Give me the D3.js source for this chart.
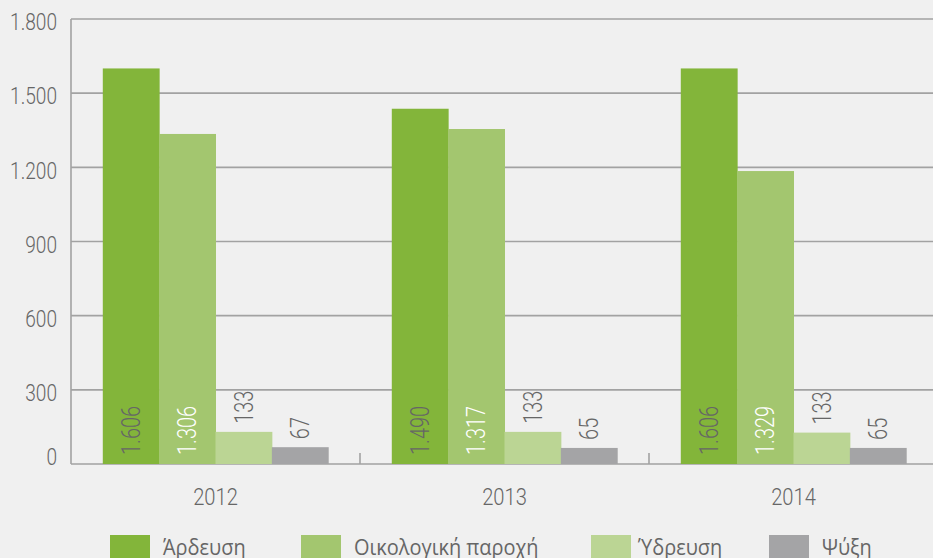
<!DOCTYPE html>
<html>
<head>
<meta charset="utf-8">
<script src="https://cdn.jsdelivr.net/npm/d3@7"></script>
<style>
  html, body { margin: 0; padding: 0; background: #f0f0f0; }
  svg { display: block; }
  .num { font-family: "Roboto", sans-serif; font-weight: 300; }
  .legend text { font-family: "Open Sans", "Noto Sans", sans-serif; }
</style>
</head>
<body>
<svg width="933" height="558"></svg>
<script>
// data
var years = ['2012', '2013', '2014'];
var seriesNames = ['Άρδευση', 'Οικολογική παροχή', 'Ύδρευση', 'Ψύξη'];
// bar heights as drawn
var irrigation = [1600, 1437, 1600];
var ecoFlow = [1335, 1355, 1185];
var waterSupply = [130, 130, 127];
var cooling = [68, 65, 65];
// printed labels
var irrigationLabels = ['1.606', '1.490', '1.606'];
var ecoFlowLabels = ['1.306', '1.317', '1.329'];
var waterSupplyLabels = ['133', '133', '133'];
var coolingLabels = ['67', '65', '65'];
var yTicks = [0, 300, 600, 900, 1200, 1500, 1800];

var colors = ['#83b53a', '#a3c66f', '#bbd594', '#a4a4a6'];
var values = [irrigation, ecoFlow, waterSupply, cooling];
var labels = [irrigationLabels, ecoFlowLabels, waterSupplyLabels, coolingLabels];

var svg = d3.select('svg');
var plotLeft = 71, plotRight = 938, plotTop = 19, plotBottom = 464;

var fmt = d3.formatLocale({ decimal: ',', thousands: '.', grouping: [3], currency: ['', '€'] }).format(',');

var x = d3.scaleBand().domain(years).range([plotLeft, plotRight]).paddingInner(0.22).paddingOuter(0.11);
var x1 = d3.scaleBand().domain(d3.range(seriesNames.length)).range([0, x.bandwidth()]);
var y = d3.scaleLinear().domain([0, 1800]).range([plotBottom, plotTop]);

// narrow the numbers, the source font is a condensed one
function condense(sel, k) {
    sel.each(function () {
        var w = this.getComputedTextLength();
        d3.select(this).attr('textLength', w * k).attr('lengthAdjust', 'spacingAndGlyphs');
    });
}

// gridlines
svg.append('g').selectAll('line')
    .data(yTicks)
    .enter()
    .append('line')
    .attr('x1', plotLeft).attr('x2', 933)
    .attr('y1', function (d) { return y(d); })
    .attr('y2', function (d) { return y(d); })
    .attr('stroke', '#a2a2a2')
    .attr('stroke-width', 1.6);

// y tick labels
svg.append('g').selectAll('text')
    .data(yTicks)
    .enter()
    .append('text')
    .attr('class', 'num')
    .attr('x', 57)
    .attr('y', function (d) { return y(d) + (d === 0 ? -7 : 3); })
    .attr('dy', '0.36em')
    .attr('text-anchor', 'end')
    .attr('font-size', 23)
    .attr('fill', '#666666')
    .text(function (d) { return fmt(d); })
    .call(condense, 0.83);

// bars
var rows = [];
years.forEach(function (yr, i) {
    seriesNames.forEach(function (s, j) {
        rows.push({ year: yr, s: j, v: values[j][i], label: labels[j][i] });
    });
});

var g = svg.append('g');
g.selectAll('rect')
    .data(rows)
    .enter()
    .append('rect')
    .attr('x', function (d) { return x(d.year) + x1(d.s); })
    .attr('width', x1.bandwidth() + 0.5)
    .attr('y', function (d) { return y(d.v); })
    .attr('height', function (d) { return y(0) - y(d.v); })
    .attr('fill', function (d) { return colors[d.s]; });

// value labels, rotated
g.selectAll('text')
    .data(rows)
    .enter()
    .append('text')
    .attr('class', 'num')
    .attr('font-size', 25)
    .attr('text-anchor', 'start')
    .attr('fill', function (d) { return d.s === 1 ? '#ffffff' : '#666666'; })
    .attr('transform', function (d) {
        var cx = x(d.year) + x1(d.s) + x1.bandwidth() / 2;
        var cy = d.s < 2 ? y(0) - 9 : y(d.v) - 8;
        return 'translate(' + (cx + 9) + ',' + cy + ') rotate(-90)';
    })
    .text(function (d) { return d.label; })
    .call(condense, 0.8);

// axis lines
svg.append('line')
    .attr('x1', plotLeft).attr('x2', plotLeft)
    .attr('y1', plotTop).attr('y2', plotBottom)
    .attr('stroke', '#a2a2a2').attr('stroke-width', 1.6);

svg.append('g').selectAll('line')
    .data(years.slice(1))
    .enter()
    .append('line')
    .attr('x1', function (d) { return x(d) - x.step() * x.paddingInner() / 2; })
    .attr('x2', function (d) { return x(d) - x.step() * x.paddingInner() / 2; })
    .attr('y1', plotBottom).attr('y2', plotBottom - 11)
    .attr('stroke', '#a2a2a2').attr('stroke-width', 1.6);

// year labels
svg.append('g').selectAll('text')
    .data(years)
    .enter()
    .append('text')
    .attr('class', 'num')
    .attr('x', function (d) { return x(d) + x.bandwidth() / 2; })
    .attr('y', 505)
    .attr('text-anchor', 'middle')
    .attr('font-size', 24)
    .attr('fill', '#666666')
    .text(function (d) { return d; })
    .call(condense, 0.84);

// legend
var legendX = [110, 301, 591, 769];
var legend = svg.append('g').attr('class', 'legend')
    .selectAll('g')
    .data(seriesNames)
    .enter()
    .append('g')
    .attr('transform', function (d, i) { return 'translate(' + legendX[i] + ',535)'; });

legend.append('rect')
    .attr('width', 40).attr('height', 30)
    .attr('fill', function (d, i) { return colors[i]; });

legend.append('text')
    .attr('x', function (d, i) { return i === 2 ? 47 : 53; })
    .attr('y', 20)
    .attr('font-size', 21)
    .attr('fill', '#666666')
    .text(function (d) { return d; })
    .call(condense, 0.95);
</script>
</body>
</html>
